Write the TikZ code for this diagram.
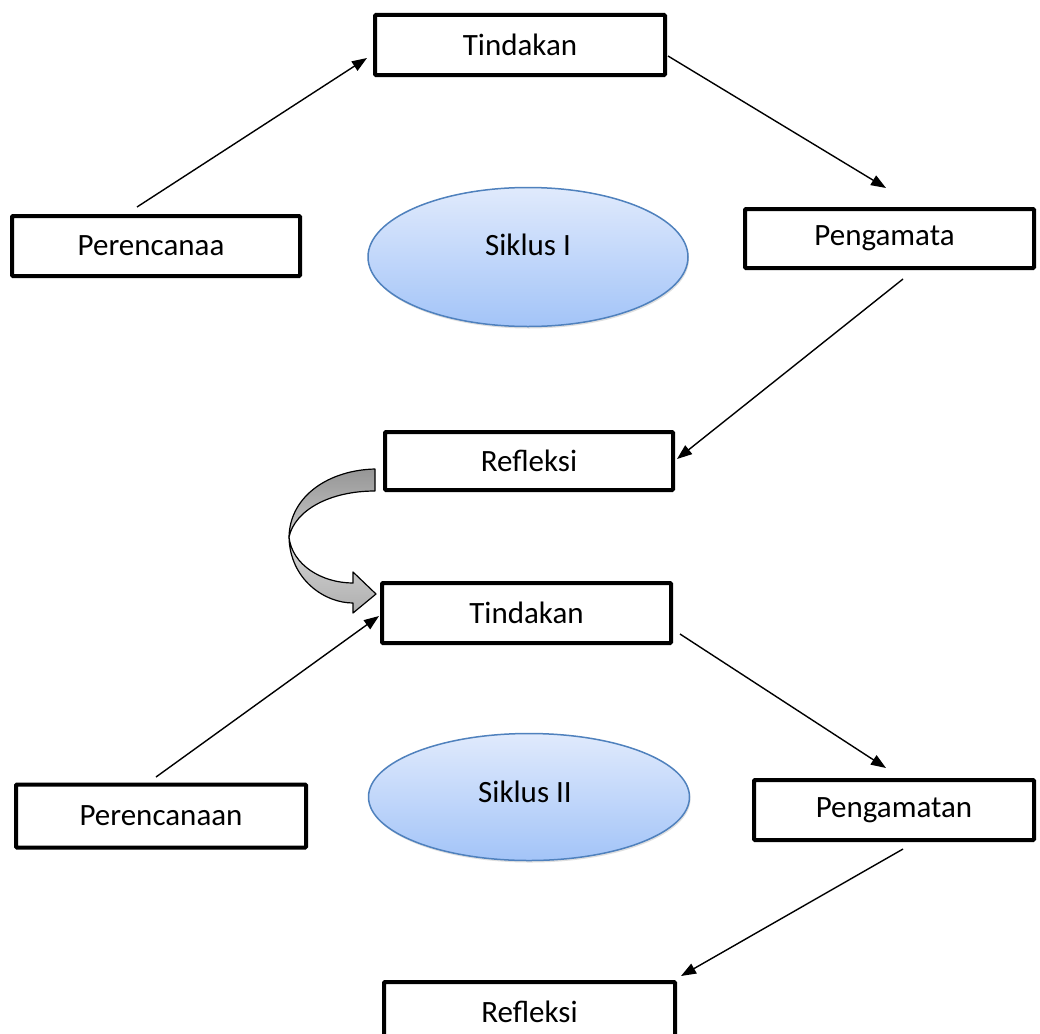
\documentclass[tikz,border=0pt]{standalone}
\usepackage{fontspec}
\setmainfont{Carlito}
\usetikzlibrary{arrows.meta,shapes.geometric,shadows}
\begin{document}
\begin{tikzpicture}[x=1pt,y=-1pt,
  stepbox/.style={draw=black,line width=4pt,fill=white,rounded corners=1pt,
    minimum width=290pt,minimum height=60pt,inner sep=0pt,font=\fontsize{31}{37}\selectfont},
  cycle/.style={ellipse,draw={rgb,255:red,79;green,129;blue,189},line width=1.5pt,
    top color={rgb,255:red,224;green,234;blue,252},bottom color={rgb,255:red,163;green,196;blue,248},
    inner sep=0pt,drop shadow={opacity=0.25,shadow xshift=1pt,shadow yshift=-2pt}},
  flow/.style={line width=1.4pt,-{Triangle[length=15pt,width=11pt]}},
  lbl/.style={font=\fontsize{31}{37}\selectfont}
]
\clip (0,0) rectangle (1040,1033);
\fill[white] (0,0) rectangle (1040,1033);

% cycle ellipses
\node[cycle,minimum width=320pt,minimum height=139pt] (c1) at (528,257) {};
\node[lbl] (c1t) at (528,245) {Siklus I};
\node[cycle,minimum width=321pt,minimum height=127pt] (c2) at (529,797) {};
\node[lbl] (c2t) at (525,792) {Siklus II};

% boxes
\node[stepbox] (t1) at (520,45) {Tindakan};
\node[stepbox,minimum width=288pt] (p1) at (156,246) {\hspace*{-10pt}Perencanaa};
\node[stepbox,minimum width=289pt,minimum height=59pt] (g1) at (889.5,238.5) {\hspace*{-10pt}Pengamata};
\node[stepbox,minimum width=288pt,minimum height=58pt] (r1) at (529,461) {Refleksi};
\node[stepbox,minimum width=289pt] (t2) at (526.5,613) {Tindakan};
\node[stepbox,minimum height=63pt] (p2) at (161,816) {Perencanaan};
\node[stepbox,minimum width=280pt] (g2) at (894,810) {Pengamatan};
\node[stepbox,minimum width=291pt] (r2) at (529.5,1012) {Refleksi};

% connector end points
\coordinate (a1s) at (137,207);
\coordinate (a1e) at (367,58);
\coordinate (a2s) at (668,56);
\coordinate (a2e) at (886,188);
\coordinate (a3s) at (903,279);
\coordinate (a3e) at (677,459);
\coordinate (a4s) at (156,777);
\coordinate (a4e) at (379,616);
\coordinate (a5s) at (680,634);
\coordinate (a5e) at (886,768);
\coordinate (a6s) at (903,849);
\coordinate (a6e) at (681,976);

\draw[flow] (a1s) -- (a1e);
\draw[flow] (a2s) -- (a2e);
\draw[flow] (a3s) -- (a3e);
\draw[flow] (a4s) -- (a4e);
\draw[flow] (a5s) -- (a5e);
\draw[flow] (a6s) -- (a6e);

% curved block arrow from Refleksi to Tindakan
\draw[line width=1.2pt,line join=round,top color={rgb,255:red,150;green,150;blue,150},bottom color={rgb,255:red,200;green,200;blue,200}]
  (375,469) .. controls (330,470) and (290,495) .. (289,537)
  .. controls (295,510) and (330,491) .. (375,491) -- cycle;
\draw[line width=1.2pt,line join=round,top color={rgb,255:red,215;green,215;blue,215},bottom color={rgb,255:red,175;green,175;blue,175}]
  (289,537) .. controls (290,580) and (325,603) .. (353,603)
  -- (353,613) -- (376,594) -- (353,572) -- (353,583)
  .. controls (322,583) and (292,565) .. (289,537) -- cycle;
\end{tikzpicture}
\end{document}
